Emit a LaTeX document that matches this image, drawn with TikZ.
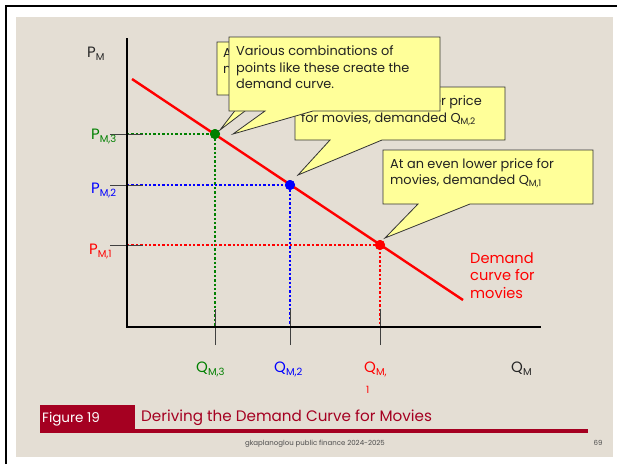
\documentclass[tikz,border=0pt]{standalone}
\usepackage{fontspec}
\setmainfont{Poppins}
\definecolor{panel}{HTML}{E4DED4}
\definecolor{callfill}{HTML}{FFFF99}
\definecolor{mygreen}{HTML}{008000}
\definecolor{myblue}{HTML}{0000FF}
\definecolor{myred}{HTML}{FF0000}
\definecolor{figred}{HTML}{A50021}
\definecolor{txt}{HTML}{222222}
\newcommand\subs[1]{\raisebox{-0.4ex}{\fontsize{10}{10}\selectfont #1}}
\newcommand\csubs[1]{\raisebox{-0.35ex}{\fontsize{9}{9}\selectfont #1}}
\begin{document}
\begin{tikzpicture}[x=1pt,y=-1pt,
  callout/.style={fill=callfill,draw=black!80,line width=0.8pt,line join=miter},
  calltext/.style={anchor=base west,inner sep=0pt,text=txt,font=\fontsize{12.9}{14}\selectfont},
  axislbl/.style={anchor=base west,inner sep=0pt,font=\fontsize{15}{15}\selectfont},
  redlbl/.style={anchor=base west,inner sep=0pt,myred,font=\fontsize{14.6}{14}\selectfont},
  dotline/.style={line width=2.4pt,dash pattern=on 2.4pt off 2pt},
  tickline/.style={draw=black!75,line width=1pt},
  dot/.style={circle,inner sep=0pt,minimum size=10pt}]
\useasboundingbox (0,0) rectangle (617,464);
\fill[white] (0,0) rectangle (617,464);
\fill[panel] (16,17) rectangle (613,457);
\draw[line width=2pt] (6,464) -- (6,6) -- (617,6);
% axes
\coordinate (O) at (127,327);
\coordinate (Ytop) at (127,38);
\coordinate (Xend) at (541,327);
% dots
\node[dot,fill=mygreen] (d3) at (215,134) {};
\node[dot,fill=myblue] (d2) at (290,185) {};
\node[dot,fill=myred] (d1) at (380,245) {};
% dotted guides
\draw[dotline,mygreen] (O |- d3) -- (d3.center) -- (d3 |- O);
\draw[dotline,myblue] (O |- d2) -- (d2.center) -- (d2 |- O);
\draw[dotline,myred] (O |- d1) -- (d1.center) -- (d1 |- O);
% ticks
\foreach \d in {d3,d2,d1}{
  \draw[tickline] ([xshift=-17pt]O |- \d) -- ([xshift=16pt]O |- \d);
  \draw[tickline] ([yshift=-18pt]\d |- O) -- ([yshift=18pt]\d |- O);
}
\draw[line width=2pt] (Ytop) -- (O) -- (Xend);
% demand curve
\coordinate (D1) at (132,79);
\coordinate (D2) at (463,300);
\draw[myred,line width=2.4pt] (D1) -- (D2);
\node[dot,fill=mygreen] at (d3) {};
\node[dot,fill=myblue] at (d2) {};
\node[dot,fill=myred] at (d1) {};
% axis labels
\node[axislbl,black!85] (pm) at (87,57) {P\subs{M}};
\node[axislbl,mygreen] (pm3) at (91,139) {P\subs{M,3}};
\node[axislbl,myblue] (pm2) at (91,193) {P\subs{M,2}};
\node[axislbl,myred] (pm1) at (89,254) {P\subs{M,1}};
\node[axislbl,mygreen] (qm3) at (196,372) {Q\subs{M,3}};
\node[axislbl,myblue] (qm2) at (274,372) {Q\subs{M,2}};
\node[axislbl,myred] (qm1) at (364,372) {Q\subs{M,}};
\node[anchor=base west,inner sep=0pt,myred,font=\fontsize{10}{10}\selectfont] (qm1b) at (366,393) {1};
\node[axislbl,black!85] (qm) at (511,372) {Q\subs{M}};
% demand label
\node[redlbl] (dl1) at (470,263) {Demand};
\node[redlbl] (dl2) at (470,280) {curve for};
\node[redlbl] (dl3) at (470,298) {movies};
% callout 3
\draw[callout] (383,150) -- (593,150) -- (593,204) -- (470,204) -- (385,238) -- (418,204) -- (383,204) -- cycle;
\node[calltext] (c3a) at (390,168) {At an even lower price for};
\node[calltext] (c3b) at (390,184) {movies, demanded Q\csubs{M,1}};
% back callout (A...)
\draw[callout] (217,42) -- (400,42) -- (400,95) -- (266,95) -- (220,130) -- (247,95) -- (217,95) -- cycle;
\node[calltext] (c0a) at (223,57) {A};
\node[calltext] (c0b) at (223,73) {m};
% callout 2
\draw[callout] (295,87) -- (505,87) -- (505,140) -- (382,140) -- (298,175) -- (330,140) -- (295,140) -- cycle;
\node[calltext,anchor=base east] (c2a) at (482,105) {At a lower price};
\node[calltext] (c2b) at (301,122) {for movies, demanded Q\csubs{M,2}};
% front callout
\draw[callout] (229,37) -- (440,37) -- (440,111) -- (313,111) -- (233,134) -- (265,111) -- (229,111) -- cycle;
\node[calltext] (c1a) at (236,55) {Various combinations of};
\node[calltext] (c1b) at (236,72) {points like these create the};
\node[calltext] (c1c) at (236,88) {demand curve.};
% figure caption
\fill[figred] (40,405) rectangle (135,433);
\fill[figred] (135,429) rectangle (588,433);
\node[anchor=west,inner sep=0pt,white,font=\fontsize{13.5}{14}\selectfont] (fig) at (42,419) {Figure 19};
\node[anchor=west,inner sep=0pt,figred,font=\fontsize{15.2}{14}\selectfont] (title) at (141,418) {Deriving the Demand Curve for Movies};
\node[inner sep=0pt,black!70,font=\fontsize{7}{7}\selectfont] (foot) at (315,444) {gkaplanoglou public finance 2024-2025};
\node[inner sep=0pt,black!70,font=\fontsize{7}{7}\selectfont] (pg) at (598,443) {69};
\end{tikzpicture}
\end{document}
